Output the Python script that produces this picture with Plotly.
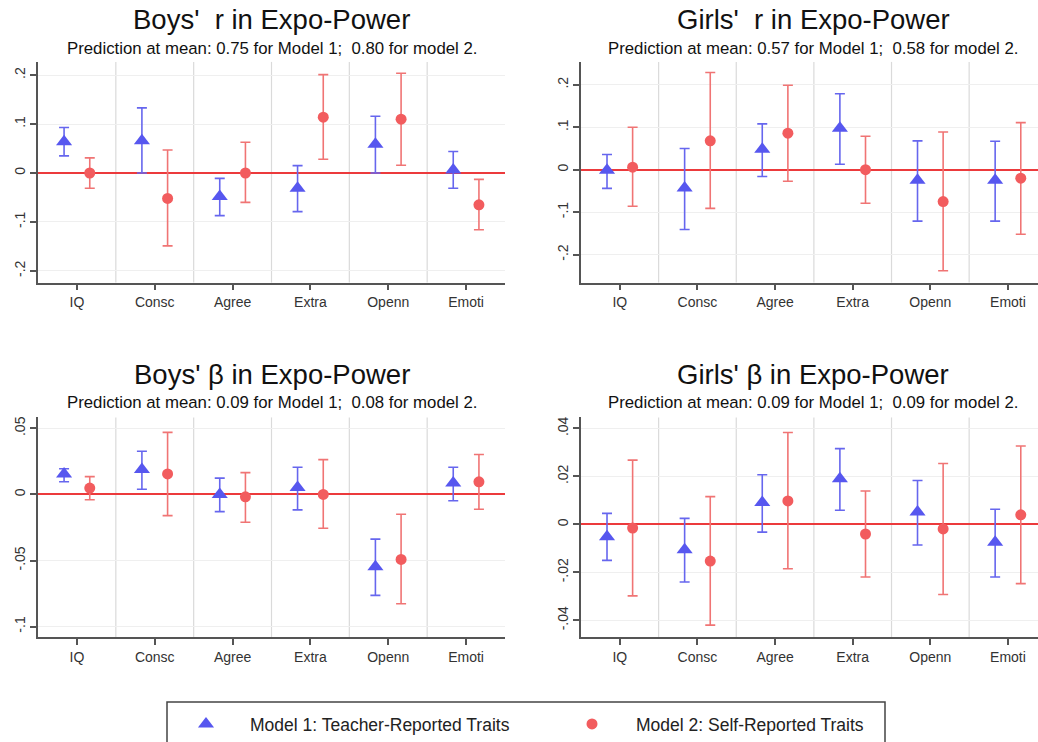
import numpy as np
import plotly.graph_objects as go

W, H = 1038, 742

categories = ["IQ", "Consc", "Agree", "Extra", "Openn", "Emoti"]

# Boys' r
boys_r_m1 = [0.064, 0.066, -0.048, -0.031, 0.059, 0.006]
boys_r_m1_lo = [0.035, 0.0, -0.087, -0.079, 0.0, -0.031]
boys_r_m1_hi = [0.093, 0.133, -0.011, 0.015, 0.116, 0.044]
boys_r_m2 = [0.0, -0.052, 0.0, 0.114, 0.110, -0.065]
boys_r_m2_lo = [-0.031, -0.149, -0.060, 0.028, 0.016, -0.116]
boys_r_m2_hi = [0.031, 0.047, 0.063, 0.201, 0.204, -0.013]

# Girls' r
girls_r_m1 = [-0.001, -0.043, 0.048, 0.098, -0.025, -0.025]
girls_r_m1_lo = [-0.044, -0.141, -0.016, 0.013, -0.121, -0.121]
girls_r_m1_hi = [0.036, 0.050, 0.108, 0.179, 0.068, 0.067]
girls_r_m2 = [0.006, 0.068, 0.086, 0.0, -0.075, -0.020]
girls_r_m2_lo = [-0.086, -0.091, -0.027, -0.079, -0.238, -0.152]
girls_r_m2_hi = [0.100, 0.229, 0.199, 0.079, 0.089, 0.111]

# Boys' beta
boys_b_m1 = [0.0155, 0.0188, 0.0, 0.0053, -0.0548, 0.0086]
boys_b_m1_lo = [0.0096, 0.004, -0.013, -0.0117, -0.0764, -0.0048]
boys_b_m1_hi = [0.0195, 0.0327, 0.0124, 0.0206, -0.0338, 0.0206]
boys_b_m2 = [0.0048, 0.0155, -0.0018, 0.0, -0.0492, 0.0096]
boys_b_m2_lo = [-0.004, -0.016, -0.021, -0.0256, -0.0827, -0.0112]
boys_b_m2_hi = [0.0135, 0.047, 0.0165, 0.0264, -0.015, 0.0302]

# Girls' beta
girls_b_m1 = [-0.0051, -0.0106, 0.0091, 0.019, 0.0052, -0.0074]
girls_b_m1_lo = [-0.015, -0.024, -0.0032, 0.0059, -0.0086, -0.0219]
girls_b_m1_hi = [0.0046, 0.0025, 0.0207, 0.0316, 0.0183, 0.0063]
girls_b_m2 = [-0.0015, -0.0153, 0.0098, -0.004, -0.0019, 0.004]
girls_b_m2_lo = [-0.0298, -0.042, -0.0185, -0.0219, -0.0292, -0.0247]
girls_b_m2_hi = [0.0268, 0.0116, 0.0383, 0.0139, 0.0254, 0.0327]

titles = ["Boys'\u00a0 r in Expo-Power", "Girls'\u00a0 r in Expo-Power",
          "Boys' \u03b2 in Expo-Power", "Girls' \u03b2 in Expo-Power"]
subtitles = [
    "Prediction at mean: 0.75 for Model 1;\u00a0 0.80 for model 2.",
    "Prediction at mean: 0.57 for Model 1;\u00a0 0.58 for model 2.",
    "Prediction at mean: 0.09 for Model 1;\u00a0 0.08 for model 2.",
    "Prediction at mean: 0.09 for Model 1;\u00a0 0.09 for model 2.",
]
y_ticks = [[-0.2, -0.1, 0, 0.1, 0.2], [-0.2, -0.1, 0, 0.1, 0.2],
           [-0.1, -0.05, 0, 0.05], [-0.04, -0.02, 0, 0.02, 0.04]]
y_ticktext = [["-.2", "-.1", "0", ".1", ".2"], ["-.2", "-.1", "0", ".1", ".2"],
              ["-.1", "-.05", "0", ".05"], ["-.04", "-.02", "0", ".02", ".04"]]
legend_names = ["Model 1: Teacher-Reported Traits", "Model 2: Self-Reported Traits"]

panels = [
    (boys_r_m1, boys_r_m1_lo, boys_r_m1_hi, boys_r_m2, boys_r_m2_lo, boys_r_m2_hi),
    (girls_r_m1, girls_r_m1_lo, girls_r_m1_hi, girls_r_m2, girls_r_m2_lo, girls_r_m2_hi),
    (boys_b_m1, boys_b_m1_lo, boys_b_m1_hi, boys_b_m2, boys_b_m2_lo, boys_b_m2_hi),
    (girls_b_m1, girls_b_m1_lo, girls_b_m1_hi, girls_b_m2, girls_b_m2_lo, girls_b_m2_hi),
]

# layout geometry in pixels (left, right, top, bottom) of each plot area
px_boxes = [(38, 505, 62, 283), (581, 1038, 62, 283),
            (38, 505, 418, 638), (581, 1038, 418, 638)]
y_ranges = [[-0.224, 0.227], [-0.266, 0.254], [-0.108, 0.0583], [-0.047, 0.0446]]
x_ranges = [[-0.5, 5.5], [-0.5, 5.387], [-0.5, 5.5], [-0.5, 5.387]]

BLUE = "#5757ef"
BLUE_BAR = "#6666ee"
RED = "#f25c5e"
RED_BAR = "#f07474"
ZERO = "#ec3a3c"
SEP = "#dadada"
GRID = "#efefef"
AXIS = "#555555"
FONT = "Liberation Sans, Arial, sans-serif"

off = 0.165
xi = np.arange(len(categories))

fig = go.Figure()
shapes = []
annotations = []
layout_axes = {}

for k, (m1, m1lo, m1hi, m2, m2lo, m2hi) in enumerate(panels):
    n = "" if k == 0 else str(k + 1)
    xa, ya = "x" + n, "y" + n
    m1 = np.array(m1); m2 = np.array(m2)
    fig.add_trace(go.Scatter(
        x=xi - off, y=m1, xaxis=xa, yaxis=ya, mode="markers",
        name=legend_names[0], legendgroup="m1", showlegend=(k == 0),
        marker=dict(symbol="triangle-up", size=14, color=BLUE),
        error_y=dict(type="data", symmetric=False,
                     array=np.array(m1hi) - m1, arrayminus=m1 - np.array(m1lo),
                     color=BLUE_BAR, thickness=1.6, width=5),
        hoverinfo="skip"))
    fig.add_trace(go.Scatter(
        x=xi + off, y=m2, xaxis=xa, yaxis=ya, mode="markers",
        name=legend_names[1], legendgroup="m2", showlegend=(k == 0),
        marker=dict(symbol="circle", size=11, color=RED),
        error_y=dict(type="data", symmetric=False,
                     array=np.array(m2hi) - m2, arrayminus=m2 - np.array(m2lo),
                     color=RED_BAR, thickness=1.6, width=5),
        hoverinfo="skip"))

    l, r, t, b = px_boxes[k]
    xdom = [l / W, r / W]
    ydom = [1 - b / H, 1 - t / H]
    layout_axes["xaxis" + n] = dict(
        domain=xdom, range=x_ranges[k], anchor=ya,
        tickvals=list(xi), ticktext=categories, showgrid=False, zeroline=False,
        showline=True, linecolor=AXIS, linewidth=1.6,
        ticks="outside", ticklen=6, tickwidth=1.5, tickcolor=AXIS,
        tickfont=dict(family=FONT, size=14, color="#333333"), fixedrange=True)
    layout_axes["yaxis" + n] = dict(
        domain=ydom, range=y_ranges[k], anchor=xa,
        tickvals=y_ticks[k], ticktext=y_ticktext[k], tickangle=-90,
        showgrid=True, gridcolor=GRID, gridwidth=1,
        zeroline=True, zerolinecolor=ZERO, zerolinewidth=2,
        showline=True, linecolor=AXIS, linewidth=1.6,
        ticks="outside", ticklen=6, tickwidth=1.5, tickcolor=AXIS,
        tickfont=dict(family=FONT, size=14, color="#333333"), fixedrange=True)

    # category separators
    for s in xi[:-1] + 0.5:
        shapes.append(dict(type="line", xref=xa, yref=ya + " domain",
                           x0=s, x1=s, y0=0, y1=1,
                           line=dict(color=SEP, width=1.2), layer="below"))

    cx = ((l + r) / 2) / W if k % 2 == 0 else 813 / W
    ty = 20 if k < 2 else 375
    sy = 49 if k < 2 else 403
    annotations.append(dict(text=titles[k], x=cx, y=1 - ty / H, xref="paper", yref="paper",
                            xanchor="center", yanchor="middle", showarrow=False,
                            font=dict(family=FONT, size=27.5, color="#111111")))
    annotations.append(dict(text=subtitles[k], x=cx, y=1 - sy / H, xref="paper", yref="paper",
                            xanchor="center", yanchor="middle", showarrow=False,
                            font=dict(family=FONT, size=16.8, color="#111111")))

# legend frame
shapes.append(dict(type="rect", xref="paper", yref="paper",
                   x0=167 / W, x1=885 / W, y0=-0.1, y1=1 - 703 / H,
                   line=dict(color="#444444", width=1.5), fillcolor="rgba(0,0,0,0)",
                   layer="above"))

fig.update_layout(
    width=W, height=H,
    margin=dict(l=0, r=0, t=0, b=0),
    paper_bgcolor="white", plot_bgcolor="white",
    shapes=shapes, annotations=annotations,
    showlegend=True,
    legend=dict(orientation="h", x=162 / W, xanchor="left", y=1 - 707 / H, yanchor="top",
                itemwidth=78, entrywidth=293, entrywidthmode="pixels",
                font=dict(family=FONT, size=17.5, color="#222222"),
                bgcolor="rgba(0,0,0,0)", borderwidth=0, itemclick=False, itemdoubleclick=False),
    **layout_axes,
)

fig.write_html("out.html", config={"displayModeBar": False})
